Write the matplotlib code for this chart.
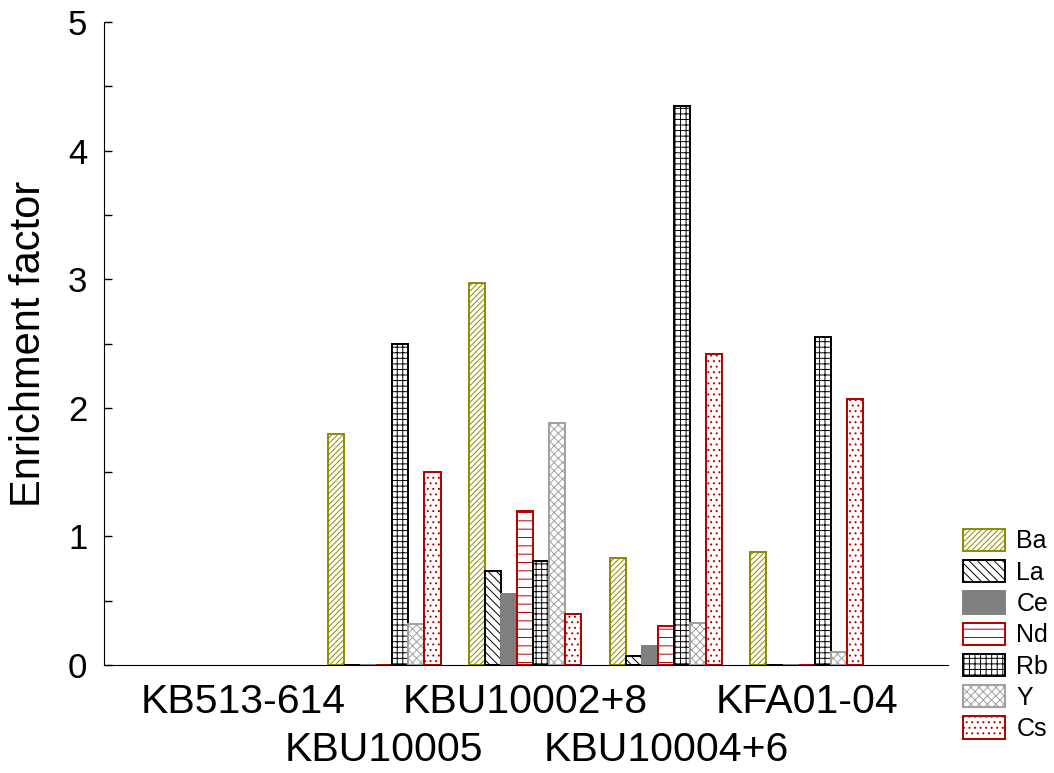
import numpy as np
import matplotlib
matplotlib.use('Agg')
import matplotlib.pyplot as plt
from matplotlib.transforms import ScaledTranslation

samples = ['KB513-614', 'KBU10005', 'KBU10002+8', 'KBU10004+6', 'KFA01-04']
elements = ['Ba', 'La', 'Ce', 'Nd', 'Rb', 'Y', 'Cs']

# enrichment factor per element, one value per sample (nan = no data)
ba = [np.nan, 1.80, 2.97, 0.83, 0.88]
la = [np.nan, 0.00, 0.73, 0.07, 0.00]
ce = [np.nan, 0.00, 0.55, 0.15, 0.00]
nd = [np.nan, 0.00, 1.20, 0.30, 0.00]
rb = [np.nan, 2.50, 0.81, 4.35, 2.55]
y_ = [np.nan, 0.32, 1.88, 0.33, 0.10]
cs = [np.nan, 1.50, 0.40, 2.42, 2.07]

series = [ba, la, ce, nd, rb, y_, cs]

# facecolor, edgecolor, hatch
styles = [
    ('white', '#8c8c00', '//////'),
    ('white', 'black', '\\\\\\\\'),
    ('#808080', '#808080', None),
    ('white', '#b00000', '--'),
    ('white', 'black', '+++'),
    ('white', '#a0a0a0', 'xxxx'),
    ('white', '#b00000', '...'),
]

plt.rcParams['font.family'] = ['Liberation Sans', 'DejaVu Sans']
plt.rcParams['hatch.linewidth'] = 0.7

fig = plt.figure(figsize=(10.54, 7.73), dpi=100)
ax = fig.add_axes([0.0987, 0.1397, 0.8003, 0.8318])

x = np.arange(len(samples))
width = 0.8 / len(elements)
for i, (vals, name) in enumerate(zip(series, elements)):
    fc, ec, h = styles[i]
    ax.bar(x + (i - 3) * width, vals, width, color=fc, edgecolor=ec,
           hatch=h, linewidth=1.4, label=name)

ax.set_xlim(-0.99, 5.0)
ax.set_ylim(0, 5)
ax.set_yticks(np.arange(0, 6, 1))
ax.set_yticks(np.arange(0.5, 5, 1), minor=True)
ax.tick_params(axis='y', which='both', direction='in', length=6, width=1,
               labelsize=25, pad=12)
ax.set_xticks(x)
ax.tick_params(axis='x', length=0, pad=13)
ax.set_xticklabels(samples, fontsize=29.5)
# every other sample name goes on a second row
for k, lab in enumerate(ax.get_xticklabels()):
    if k % 2 == 1:
        lab.set_transform(lab.get_transform() +
                          ScaledTranslation(0, -0.48, fig.dpi_scale_trans))
ax.spines['top'].set_visible(False)
ax.spines['right'].set_visible(False)
ax.set_ylabel('Enrichment factor', fontsize=30, labelpad=14)

ax.legend(loc='lower left', bbox_to_anchor=(963 / 1054, 32 / 773),
          bbox_transform=fig.transFigure, frameon=False,
          fontsize=18, handlelength=1.68, handleheight=1.0, labelspacing=0.26,
          handletextpad=0.45, borderpad=0, borderaxespad=0)

fig.savefig('out.png', dpi=100)
